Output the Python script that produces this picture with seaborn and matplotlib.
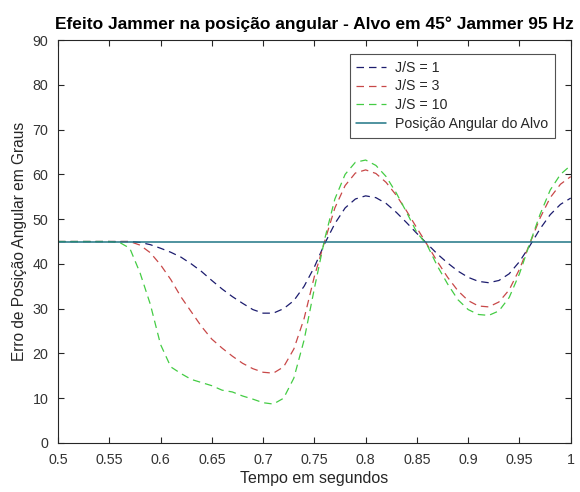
import matplotlib
matplotlib.use("Agg")
import matplotlib.pyplot as plt
import seaborn as sns
import numpy as np
import pandas as pd

tempo = [0.50, 0.51, 0.52, 0.53, 0.54, 0.55, 0.56, 0.57, 0.58, 0.59,
         0.60, 0.61, 0.62, 0.63, 0.64, 0.65, 0.66, 0.67, 0.68, 0.69,
         0.70, 0.71, 0.72, 0.73, 0.74, 0.75, 0.76, 0.77, 0.78, 0.79,
         0.80, 0.81, 0.82, 0.83, 0.84, 0.85, 0.86, 0.87, 0.88, 0.89,
         0.90, 0.91, 0.92, 0.93, 0.94, 0.95, 0.96, 0.97, 0.98, 0.99, 1.00]

js1 = [45, 45, 45, 45, 45, 45, 45, 45, 44.8, 44.3,
       43.5, 42.6, 41.5, 40.0, 38.3, 36.3, 34.4, 32.7, 31.2, 29.8,
       29.0, 29.0, 30.0, 31.8, 35.0, 39.3, 44.5, 49.0, 52.5, 54.5,
       55.2, 54.8, 53.5, 51.5, 49.2, 46.8, 44.5, 42.2, 40.2, 38.4,
       37.0, 36.1, 35.8, 36.3, 37.8, 40.5, 44.0, 47.8, 51.0, 53.3, 54.7]

js3 = [45, 45, 45, 45, 45, 45, 45, 45, 44.2, 42.5,
       39.8, 36.5, 32.6, 29.3, 26.0, 23.2, 21.2, 19.4, 17.8, 16.6,
       15.8, 15.6, 17.0, 21.0, 27.8, 37.2, 45.0, 52.5, 57.5, 60.3,
       61.0, 60.2, 58.2, 55.3, 51.8, 48.0, 44.3, 40.5, 37.0, 34.0,
       31.8, 30.6, 30.4, 31.5, 34.2, 38.8, 44.5, 50.2, 54.8, 57.8, 59.5]

js10 = [45, 45, 45, 45, 45, 45, 44.8, 43.5, 38.0, 31.0,
        22.0, 17.0, 15.5, 14.2, 13.5, 12.8, 11.8, 11.4, 10.5, 9.8,
        9.0, 8.7, 10.0, 14.5, 23.0, 34.5, 45.5, 54.5, 60.0, 62.7,
        63.2, 62.0, 59.5, 55.8, 51.5, 47.0, 44.2, 39.5, 35.5, 32.0,
        29.8, 28.7, 28.5, 29.5, 32.5, 37.8, 44.5, 51.0, 56.5, 60.0, 62.0]

alvo = [45, 45]
alvo_t = [0.50, 1.00]

labels = ["J/S = 1", "J/S = 3", "J/S = 10", "Posição Angular do Alvo"]
colors = ["#1c1c6e", "#c84848", "#44cc44", "#1f7585"]

sns.set_theme(style="white")
plt.rcParams["font.family"] = ["Liberation Sans", "DejaVu Sans"]

fig = plt.figure(figsize=(5.8, 4.92), dpi=100)
ax = fig.add_axes([0.1, 0.0996, 0.884, 0.819])

for series, lab, col in zip([js1, js3, js10], labels[:3], colors[:3]):
    df = pd.DataFrame({"t": tempo, "v": series})
    sns.lineplot(data=df, x="t", y="v", ax=ax, color=col, linewidth=0.9,
                 linestyle=(0, (6, 4)), label=lab)
dfa = pd.DataFrame({"t": alvo_t, "v": alvo})
sns.lineplot(data=dfa, x="t", y="v", ax=ax, color=colors[3], linewidth=1.1,
             label=labels[3])

ax.set_xlim(0.5, 1.0)
ax.set_ylim(0, 90)
ax.set_xticks([0.5, 0.55, 0.6, 0.65, 0.7, 0.75, 0.8, 0.85, 0.9, 0.95, 1.0])
ax.set_xticklabels(["0.5", "0.55", "0.6", "0.65", "0.7", "0.75", "0.8",
                    "0.85", "0.9", "0.95", "1"])
ax.set_yticks(range(0, 91, 10))
ax.tick_params(axis="both", which="both", direction="in", length=4,
               width=0.8, color="#262626", labelsize=10.3, labelcolor="#333333",
               top=True, right=True, bottom=True, left=True)
ax.tick_params(axis="x", pad=7)
ax.tick_params(axis="y", pad=7)
for s in ax.spines.values():
    s.set_color("#262626")
    s.set_linewidth(0.8)

ax.set_xlabel("Tempo em segundos", fontsize=11.5, color="#262626", labelpad=3)
ax.set_ylabel("Erro de Posição Angular em Graus", fontsize=11.2,
              color="#262626", labelpad=4)
ax.set_title("Efeito Jammer na posição angular - Alvo em 45° Jammer 95 Hz",
             fontsize=12.5, fontweight="bold", color="black", pad=8)

leg = ax.legend(loc="upper right", bbox_to_anchor=(0.969, 0.965),
                fontsize=10.2, frameon=True, fancybox=False, borderpad=0.45,
                handlelength=2.1, labelspacing=0.35, handletextpad=0.65,
                borderaxespad=0)
leg.get_frame().set_edgecolor("#262626")
leg.get_frame().set_linewidth(0.8)

fig.savefig("out.png", dpi=100)
